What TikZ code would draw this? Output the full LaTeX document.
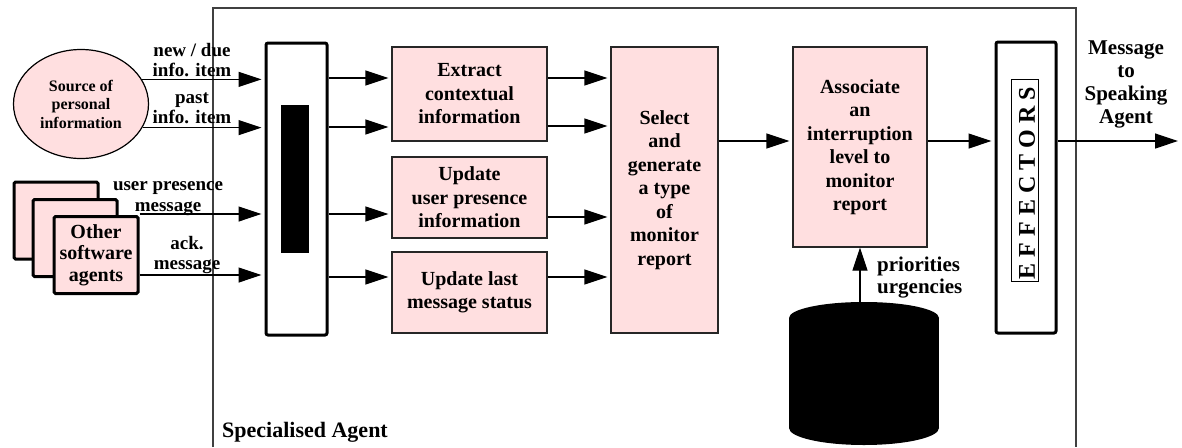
\documentclass[tikz,border=0pt]{standalone}
\usepackage{fontspec}
\setmainfont{Liberation Serif}
\usetikzlibrary{arrows.meta,shapes.geometric}
\definecolor{boxpink}{RGB}{255,223,224}
\begin{document}
\begin{tikzpicture}[x=1pt,y=-1pt,
  proc/.style={draw=black!85, line width=1.2pt, fill=boxpink, align=center,
    inner sep=0pt, font=\fontsize{20}{23.5}\selectfont\bfseries},
  lbl/.style={align=center, inner sep=0pt, font=\fontsize{19}{20.5}\selectfont\bfseries},
  arr/.style={line width=1.2pt, -{Triangle[length=23pt,width=15pt]}, shorten >=3pt},
  agentbox/.style={draw, line width=3pt, fill=boxpink, rounded corners=1.5pt,
    inner sep=0pt, minimum width=84pt, minimum height=77pt},
  bar/.style={draw, line width=3pt, fill=white, rounded corners=2pt, inner sep=0pt}]
\useasboundingbox (0,0) rectangle (1182,447);

% agent boundary
\draw[line width=1.5pt, black!75] (213,447) -- (213,8) -- (1076,8) -- (1076,447);

% sources
\node[ellipse, draw, line width=1.2pt, fill=boxpink, minimum width=135pt,
  minimum height=109pt, inner sep=0pt, align=center,
  font=\fontsize{16}{18.5}\selectfont\bfseries] (src) at (81,104) {Source of\\personal\\information};
\node[agentbox] (ag1) at (56,220.5) {};
\node[agentbox] (ag2) at (75,238) {};
\node[agentbox, align=center, font=\fontsize{20}{21.5}\selectfont\bfseries] (ag3) at (96,255)
  {Other\\software\\agents};

% sensor buffer
\node[bar, minimum width=61pt, minimum height=292pt] (buf) at (296.5,189) {};
\node[fill=black, inner sep=0pt, minimum width=28pt, minimum height=148pt] (bufcore) at (295,179) {};

% processing steps
\node[proc, minimum width=155pt, minimum height=94pt] (extract) at (469.5,94)
  {Extract\\contextual\\information};
\node[proc, minimum width=155pt, minimum height=81pt] (presence) at (469.5,197.5)
  {Update\\user presence\\information};
\node[proc, minimum width=155pt, minimum height=81pt] (last) at (469.5,292.5)
  {Update last\\message status};
\node[proc, minimum width=107pt, minimum height=286pt] (select) at (664.5,190)
  {Select\\and\\generate\\a type\\of\\monitor\\report};
\node[proc, minimum width=134pt, minimum height=200pt] (assoc) at (860,147)
  {Associate\\an\\interruption\\level to\\monitor\\report};

% effectors
\node[bar, minimum width=60pt, minimum height=291pt] (eff) at (1026,187.5) {};
\node[draw, line width=0.8pt, inner sep=0pt, minimum width=27pt, minimum height=202pt] (effbox) at (1024.5,180) {};
\node[rotate=90, inner sep=0pt, font=\fontsize{24}{24}\selectfont\bfseries] (efftext) at (1027,183)
  {E F F E C T O R S};

% knowledge store
\fill (789,318) rectangle (939,428);
\fill (864,318) ellipse [x radius=75, y radius=16];
\fill (864,428) ellipse [x radius=75, y radius=17];
\coordinate (dbtop) at (860,302);
\coordinate (out) at (1181,141);

% inputs
\draw[arr] (src.22.6) -- (src.22.6 -| buf.west);
\draw[arr] (src.-21.6) -- (src.-21.6 -| buf.west);
\draw[arr] (ag3.east |- 0,214) -- (buf.west |- 0,214);
\draw[arr] (ag3.east |- 0,275) -- (buf.west |- 0,275);
\node[lbl] (l1) at (192,60) {new / due\\info. item};
\node[lbl] (l2) at (192,108.5) {past\\info. item};
\node[lbl] (l3) at (168,198.5) {user presence\\message};
\node[lbl] (l4) at (187,255) {ack.\\message};

% buffer to steps
\draw[arr] (buf.east |- 0,78) -- (extract.west |- 0,78);
\draw[arr] (buf.east |- 0,127) -- (extract.west |- 0,127);
\draw[arr] (buf.east |- 0,214) -- (presence.west |- 0,214);
\draw[arr] (buf.east |- 0,277) -- (last.west |- 0,277);

% steps to selection
\draw[arr] (extract.east |- 0,78) -- (select.west |- 0,78);
\draw[arr] (extract.east |- 0,126) -- (select.west |- 0,126);
\draw[arr] (presence.east |- 0,217) -- (select.west |- 0,217);
\draw[arr] (last.east |- 0,277) -- (select.west |- 0,277);

% selection onwards
\draw[arr] (select.east |- 0,141) -- (assoc.west |- 0,141);
\draw[arr] (assoc.east |- 0,141) -- (eff.west |- 0,141);
\draw[arr] (eff.east |- 0,141) -- (out);
\draw[arr, shorten >=0pt] (dbtop) -- (assoc.south);

\node[align=center, inner sep=0pt, font=\fontsize{21}{23}\selectfont\bfseries] (msg) at (1126,84)
  {Message\\to\\Speaking\\Agent};
\node[align=left, anchor=west, inner sep=0pt, font=\fontsize{21}{22}\selectfont\bfseries] (prio) at (877,278)
  {priorities\\urgencies};
\node[anchor=west, inner sep=0pt, font=\fontsize{22}{22}\selectfont\bfseries] (title) at (222,432)
  {Specialised Agent};
\end{tikzpicture}
\end{document}
